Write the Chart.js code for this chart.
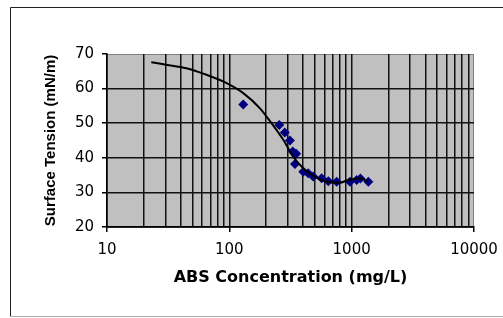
<!DOCTYPE html>
<html>
<head>
<meta charset="utf-8">
<script src="https://cdn.jsdelivr.net/npm/chart.js@4"></script>
<style>
  html, body { margin: 0; padding: 0; background: #fff; }
  #wrap { position: relative; width: 503px; height: 318px; }
</style>
</head>
<body>
<div id="wrap"><canvas id="chart" width="503" height="318"></canvas></div>
<script>
// measured points (ABS mg/L vs surface tension mN/m)
const pointConc    = [130, 256, 284, 313, 330, 352, 344, 402, 441, 485, 568, 644, 754, 968, 1099, 1180, 1368];
const pointTension = [55.4, 49.5, 47.3, 45.0, 41.8, 41.2, 38.2, 36.0, 35.5, 34.6, 34.1, 33.2, 33.1, 33.1, 33.6, 34.0, 33.1];

// fitted curve
const curveConc    = [23, 30.6, 44.5, 65, 95, 130, 178, 221, 276, 333, 402, 500, 624, 802, 937, 1170, 1368];
const curveTension = [67.6, 66.9, 65.9, 64.0, 61.6, 58.7, 54.3, 50.0, 45.2, 40.3, 37.0, 34.5, 33.1, 32.8, 33.6, 34.1, 33.1];

const decades  = [10, 100, 1000, 10000];
const yTicks   = [20, 30, 40, 50, 60, 70];

const frame = {
  id: 'frame',
  beforeDraw(chart) {
    const { ctx, chartArea: a } = chart;
    ctx.save();
    ctx.fillStyle = '#c0c0c0';
    ctx.fillRect(a.left, a.top, a.right - a.left, a.bottom - a.top);
    ctx.strokeStyle = '#808080';
    ctx.lineWidth = 1;
    ctx.strokeRect(a.left, a.top + 0.5, a.right - a.left - 0.5, a.bottom - a.top);
    // outer chart border
    ctx.strokeStyle = '#222';
    ctx.beginPath();
    ctx.moveTo(10.5, 316);
    ctx.lineTo(10.5, 7.5);
    ctx.lineTo(503, 7.5);
    ctx.stroke();
    ctx.strokeStyle = '#aaa';
    ctx.beginPath();
    ctx.moveTo(10, 316.5);
    ctx.lineTo(503, 316.5);
    ctx.stroke();
    ctx.restore();
  }
};

const isDecade = v => decades.includes(v);

new Chart(document.getElementById('chart'), {
  type: 'scatter',
  data: {
    datasets: [
      {
        type: 'line',
        data: curveConc.map((x, i) => ({ x, y: curveTension[i] })),
        borderColor: '#000',
        borderWidth: 2,
        pointRadius: 0,
        cubicInterpolationMode: 'monotone',
        fill: false,
        order: 0
      },
      {
        data: pointConc.map((x, i) => ({ x, y: pointTension[i] })),
        pointStyle: 'rectRot',
        pointRadius: 5,
        backgroundColor: '#000080',
        borderColor: '#000080',
        borderWidth: 0,
        order: 1
      }
    ]
  },
  options: {
    responsive: false,
    animation: false,
    events: [],
    layout: { padding: { left: 0, top: 54, right: 29, bottom: 0 } },
    plugins: { legend: { display: false }, tooltip: { enabled: false } },
    scales: {
      x: {
        type: 'logarithmic',
        min: 10,
        max: 10000,
        afterBuildTicks(scale) {
          const ticks = [];
          decades.slice(0, -1).forEach(d => {
            for (let m = 1; m < 10; m++) ticks.push({ value: m * d });
          });
          ticks.push({ value: 10000 });
          scale.ticks = ticks;
        },
        afterFit(scale) {
          scale.height = 318 - 227;
          scale.paddingLeft = 0;
          scale.paddingRight = 0;
        },
        border: { color: '#000', width: 1.5 },
        grid: {
          color: c => (c.tick && c.tick.value === 10000) ? 'rgba(0,0,0,0)' : '#111',
          lineWidth: 1.5,
          tickLength: 5,
          tickColor: c => (c.tick && isDecade(c.tick.value)) ? '#000' : 'rgba(0,0,0,0)'
        },
        ticks: {
          autoSkip: false,
          maxRotation: 0,
          padding: 9,
          color: '#000',
          font: { family: 'DejaVu Sans', size: 15 },
          callback: v => isDecade(v) ? String(v) : ''
        },
        title: {
          display: true,
          text: 'ABS Concentration (mg/L)',
          color: '#000',
          font: { family: 'DejaVu Sans', size: 16, weight: 'bold' },
          padding: { top: 0, bottom: 31 }
        }
      },
      y: {
        min: 20,
        max: 70,
        afterBuildTicks(scale) {
          scale.ticks = yTicks.map(value => ({ value }));
        },
        afterFit(scale) {
          scale.width = 107;
          scale.paddingTop = 0;
          scale.paddingBottom = 0;
        },
        border: { color: '#000', width: 1.5 },
        grid: {
          color: c => (c.tick && c.tick.value === 70) ? 'rgba(0,0,0,0)' : '#111',
          lineWidth: 1.5,
          tickLength: 5,
          tickColor: '#000'
        },
        ticks: {
          padding: 8,
          color: '#000',
          font: { family: 'DejaVu Sans', size: 15 }
        },
        title: {
          display: true,
          text: 'Surface Tension (mN/m)',
          color: '#000',
          font: { family: 'Liberation Sans', size: 15, weight: 'bold' },
          padding: { top: 42, bottom: 0 }
        }
      }
    }
  },
  plugins: [frame]
});
</script>
</body>
</html>
